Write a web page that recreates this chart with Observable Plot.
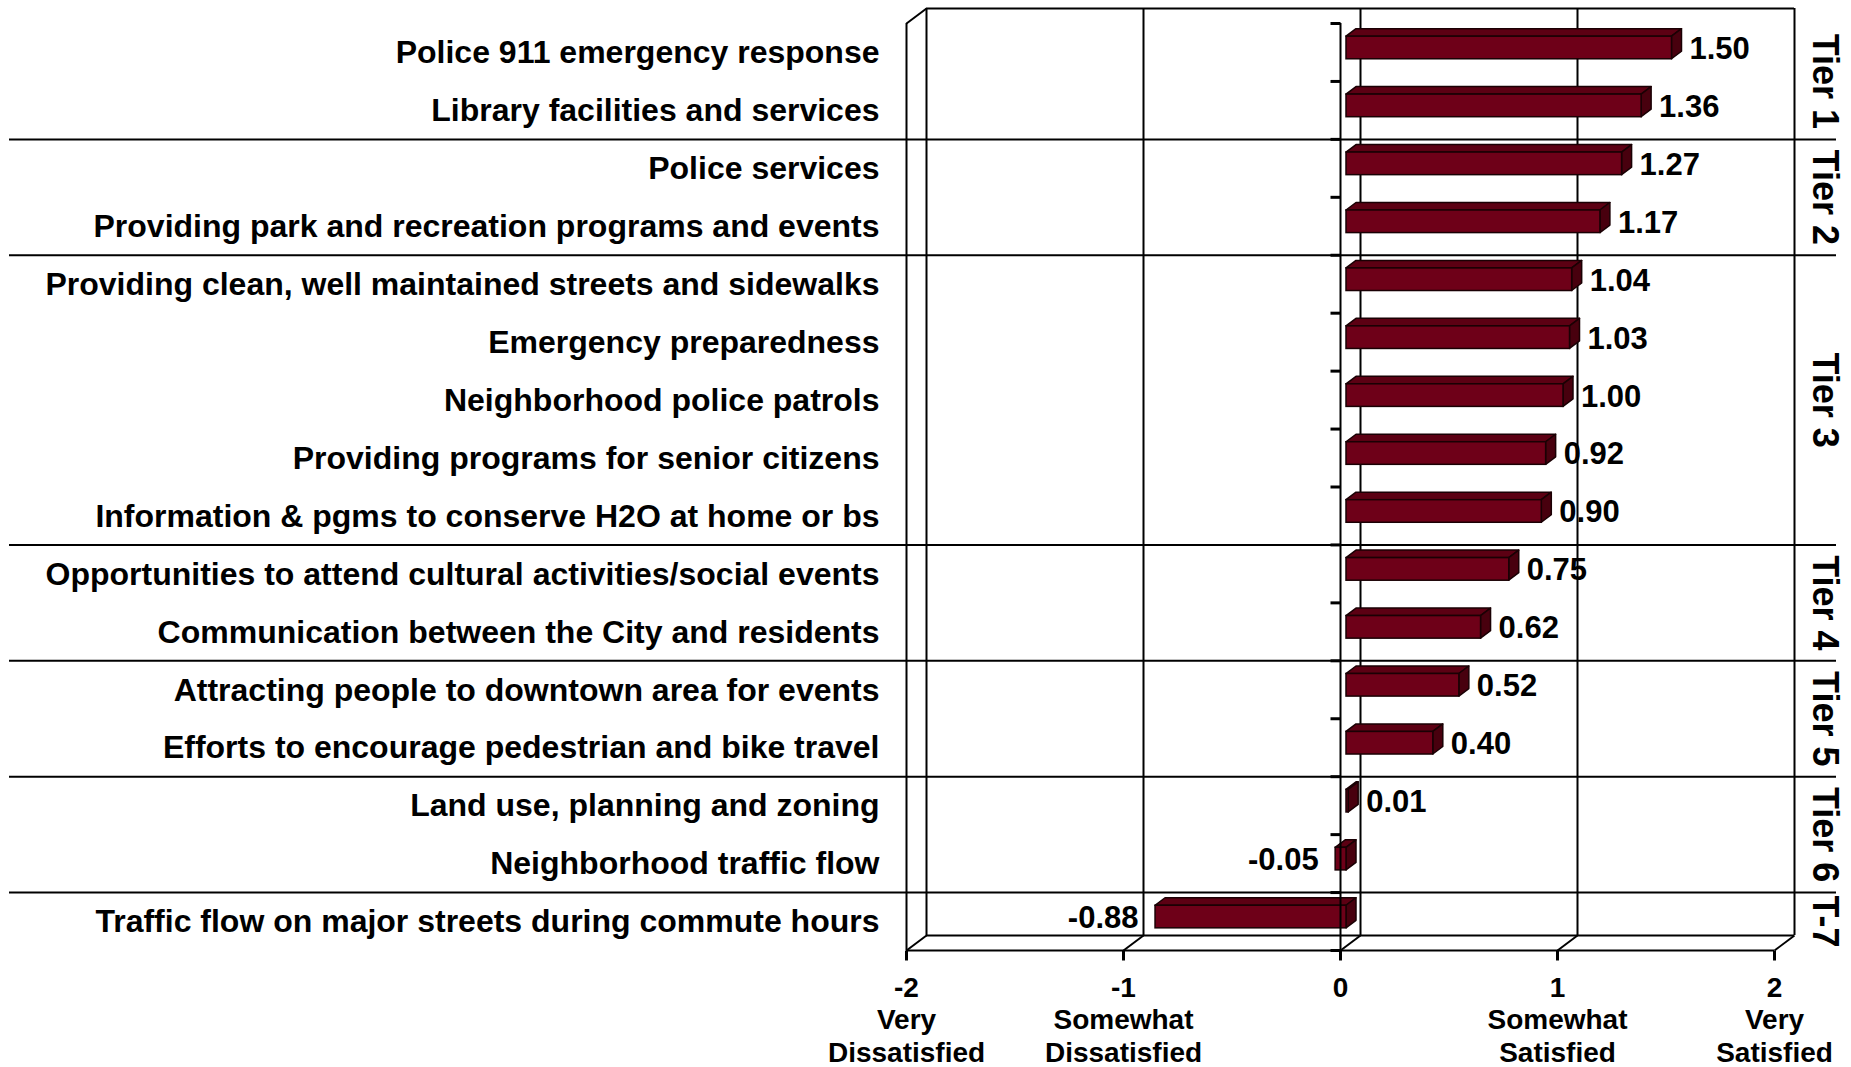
<!DOCTYPE html>
<html><head><meta charset="utf-8">
<script src="https://cdn.jsdelivr.net/npm/d3@7"></script>
<script src="https://cdn.jsdelivr.net/npm/@observablehq/plot@0.6"></script>
<style>
html,body{margin:0;padding:0;background:#fff;overflow:hidden}
#chart svg{display:block}
</style></head><body><div id="chart"></div>
<script>
// ---- data ----
const categories = [
  "Police 911 emergency response",
  "Library facilities and services",
  "Police services",
  "Providing park and recreation programs and events",
  "Providing clean, well maintained streets and sidewalks",
  "Emergency preparedness",
  "Neighborhood police patrols",
  "Providing programs for senior citizens",
  "Information & pgms to conserve H2O at home or bs",
  "Opportunities to attend cultural activities/social events",
  "Communication between the City and residents",
  "Attracting people to downtown area for events",
  "Efforts to encourage pedestrian and bike travel",
  "Land use, planning and zoning",
  "Neighborhood traffic flow",
  "Traffic flow on major streets during commute hours"
];
const values = [1.50, 1.36, 1.27, 1.17, 1.04, 1.03, 1.00, 0.92, 0.90, 0.75, 0.62, 0.52, 0.40, 0.01, -0.05, -0.88];
const tierNames = ["Tier 1", "Tier 2", "Tier 3", "Tier 4", "Tier 5", "Tier 6", "T-7"];
const tierSizes = [2, 2, 5, 2, 2, 2, 1];
const xTickValues = [-2, -1, 0, 1, 2];
const xTickNames = ["Very\nDissatisfied", "Somewhat\nDissatisfied", "", "Somewhat\nSatisfied", "Very\nSatisfied"];

// ---- layout ----
const W = 1851, H = 1067, mL = 906, mR = 77, mT = 23, mB = 117;
const N = categories.length;
const KX = (W - mL - mR) / 4;           // px per x unit
const KY = (H - mT - mB) / N;           // px per row
const DX = 20 / KX, DY = -15 / KY;      // 3D depth vector in data units
const xAt = px => -2 + (px - mL) / KX;
const FONT = "'Liberation Sans', Arial, Helvetica, sans-serif";

const rows = categories.map((name, i) => ({name, i, v: values[i]}));
const BAR_H = 0.39, F = 0.3, B = 0.8;
const faces = rows.map(d => ({
  ...d, a: Math.min(0, d.v), b: Math.max(0, d.v),
  yT: d.i + 0.5 - BAR_H / 2, yB: d.i + 0.5 + BAR_H / 2
}));
const topFace = faces.flatMap(d => [
  {z: d.i, y: d.yT + F * DY, x1: d.a + F * DX, x2: d.b + F * DX},
  {z: d.i, y: d.yT + B * DY, x1: d.a + B * DX, x2: d.b + B * DX}
]);
const sideFace = faces.flatMap(d => [
  {z: d.i, x: d.b + F * DX, y1: d.yT + F * DY, y2: d.yB + F * DY},
  {z: d.i, x: d.b + B * DX, y1: d.yT + B * DY, y2: d.yB + B * DY}
]);

let acc = 0;
const tiers = tierNames.map((t, k) => { const c = acc + tierSizes[k] / 2; acc += tierSizes[k]; return {t, c}; });
const separators = d3.cumsum(tierSizes).slice(0, -1);

const BLACK = "#000";
const chart = Plot.plot({
  width: W, height: H,
  marginLeft: mL, marginRight: mR, marginTop: mT, marginBottom: mB,
  x: {domain: [-2, 2], axis: null},
  y: {domain: [0, N], reverse: true, axis: null},
  style: {background: "#fff", color: "#000", fontFamily: FONT},
  marks: [
    // back wall
    Plot.ruleX(xTickValues, {x: d => d + DX, y1: () => DY, y2: () => N + DY, stroke: BLACK, strokeWidth: 2}),
    Plot.ruleY([DY, N + DY], {y: d => d, x1: () => -2 + DX, x2: () => 2 + DX, stroke: BLACK, strokeWidth: 2}),
    // floor
    Plot.ruleY([N], {y: d => d, x1: () => -2, x2: () => 2, stroke: BLACK, strokeWidth: 2}),
    Plot.link(xTickValues, {x1: d => d, y1: () => N, x2: d => d + DX, y2: () => N + DY, stroke: BLACK, strokeWidth: 2}),
    // left wall
    Plot.ruleX([-2], {x: d => d, y1: () => 0, y2: () => N, stroke: BLACK, strokeWidth: 2}),
    Plot.link([-2], {x1: d => d, y1: () => 0, x2: d => d + DX, y2: () => DY, stroke: BLACK, strokeWidth: 2}),
    // tier separators
    Plot.ruleY(separators, {y: d => d, x1: () => xAt(9), x2: () => xAt(1836), stroke: BLACK, strokeWidth: 2}),
    // 3D bars
    Plot.areaX(topFace, {y: "y", x1: "x1", x2: "x2", z: "z", fill: "#5c0013", stroke: "#1a0004", strokeWidth: 1.5}),
    Plot.areaY(sideFace, {x: "x", y1: "y1", y2: "y2", z: "z", fill: "#48000e", stroke: "#1a0004", strokeWidth: 1.5}),
    Plot.rect(faces, {x1: d => d.a + F * DX, x2: d => d.b + F * DX, y1: d => d.yT + F * DY, y2: d => d.yB + F * DY,
      fill: "#6e0018", stroke: "#1a0004", strokeWidth: 1.5}),
    // front value axis
    Plot.ruleX([0], {x: d => d, y1: () => 0, y2: () => N, stroke: BLACK, strokeWidth: 2}),
    Plot.link(d3.range(N + 1), {x1: () => -10 / KX, x2: () => 0, y1: d => d, y2: d => d, stroke: BLACK, strokeWidth: 3}),
    Plot.link(xTickValues, {x1: d => d, x2: d => d, y1: () => N, y2: () => N + 10 / KY, stroke: BLACK, strokeWidth: 3}),
    // category labels
    Plot.text(rows, {x: () => -2, y: d => d.i + 0.5, text: "name", textAnchor: "end", dx: -27, dy: 0.5,
      fontSize: 32, fontWeight: "bold", fontFamily: FONT, fill: BLACK}),
    // value labels
    Plot.text(rows.filter(d => d.v >= 0), {x: "v", y: d => d.i + 0.5, text: d => d.v.toFixed(2), textAnchor: "start",
      dx: 23.5, dy: -3.5, fontSize: 31, fontWeight: "bold", fontFamily: FONT, fill: BLACK}),
    Plot.text(rows.filter(d => d.v < 0), {x: "v", y: d => d.i + 0.5, text: d => d.v.toFixed(2), textAnchor: "end",
      dx: -11, dy: -3.5, fontSize: 31, fontWeight: "bold", fontFamily: FONT, fill: BLACK}),
    // tier labels
    Plot.text(tiers, {x: () => xAt(1824.5), y: "c", text: "t", rotate: 90, fontSize: 36, fontWeight: "bold",
      fontFamily: FONT, fill: BLACK}),
    // x tick labels
    Plot.text(xTickValues, {x: d => d, y: () => N,
      text: (d, i) => String(d) + (xTickNames[i] ? "\n" + xTickNames[i] : ""),
      lineAnchor: "top", dy: 23, lineHeight: 1.16, fontSize: 28, fontWeight: "bold", fontFamily: FONT, fill: BLACK})
  ]
});
document.getElementById("chart").appendChild(chart);
</script>
</body></html>
